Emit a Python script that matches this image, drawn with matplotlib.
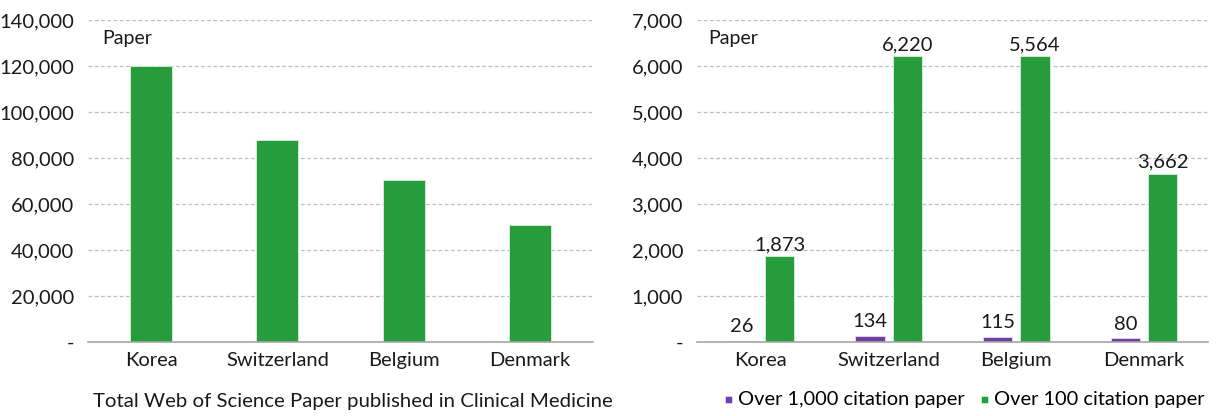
import matplotlib.pyplot as plt
import numpy as np
from matplotlib.ticker import FuncFormatter

plt.rcParams['font.family'] = ['Lato', 'DejaVu Sans']

# data
countries = ["Korea", "Switzerland", "Belgium", "Denmark"]
total_papers = [120000, 87800, 70300, 51000]

over_1000 = [26, 134, 115, 80]
over_100_bar = [1873, 6220, 6220, 3662]   # Belgium bar is drawn at the Switzerland height in the source
over_100_label = ["1,873", "6,220", "5,564", "3,662"]

green = "#279C3D"
purple = "#7040A0"
grid_col = "#BFBFBF"
txt = "#1a1a1a"

W, H = 1217, 416
fig = plt.figure(figsize=(W / 100, H / 100), dpi=100)


def fmt(v, pos):
    return "-" if v == 0 else f"{int(v):,}"


def style(ax, ymax, step, paper_x):
    ax.set_ylim(0, ymax)
    ax.set_yticks(np.arange(0, ymax + 1, step))
    ax.yaxis.set_major_formatter(FuncFormatter(fmt))
    ax.set_xlim(-0.5, len(countries) - 0.5)
    ax.set_xticks(range(len(countries)))
    ax.set_xticklabels(countries)
    for s in ["left", "right", "top"]:
        ax.spines[s].set_visible(False)
    ax.spines["bottom"].set_color("#A6A6A6")
    ax.spines["bottom"].set_linewidth(1.2)
    ax.tick_params(length=0, labelsize=14.5, colors=txt)
    ax.tick_params(axis="y", pad=10)
    ax.tick_params(axis="x", pad=7)
    ax.grid(axis="y", color=grid_col, linestyle=(0, (3, 2)), linewidth=0.9)
    ax.set_axisbelow(True)
    ax.text(paper_x, 0.944, "Paper", transform=ax.transAxes, fontsize=14,
            ha="left", va="center", color=txt)


x = np.arange(len(countries))

########################################################################
# left: total papers
ax1 = fig.add_axes([88 / W, 74 / H, 505 / W, 322 / H])
ax1.bar(x, total_papers, width=0.333, color=green, edgecolor="#DDEFD9", linewidth=0.6)
style(ax1, 140000, 20000, 0.028)
ax1.text((353 - 88) / 505, -(402 - 342) / 322,
         "Total Web of Science Paper published in Clinical Medicine",
         transform=ax1.transAxes, ha="center", va="center", fontsize=14.7, color=txt)

########################################################################
# right: highly cited papers
ax2 = fig.add_axes([697 / W, 74 / H, 511 / W, 322 / H])
bw = 0.23
off = 0.146
ax2.bar(x - off, over_1000, width=bw, color=purple, edgecolor="#E6DDF0",
        linewidth=0.6, label="Over 1,000 citation paper")
ax2.bar(x + off, over_100_bar, width=bw, color=green, edgecolor="#DDEFD9",
        linewidth=0.6, label="Over 100 citation paper")
style(ax2, 7000, 1000, 0.022)

for xi, v in zip(x, over_1000):
    ax2.annotate(f"{v:,}", (xi - off, v), xytext=(0, 4), textcoords="offset points",
                 ha="center", va="bottom", fontsize=14.5, color=txt)
for xi, v, lab in zip(x, over_100_bar, over_100_label):
    ax2.annotate(lab, (xi + off, v), xytext=(0, 2), textcoords="offset points",
                 ha="center", va="bottom", fontsize=14.5, color=txt)

ax2.legend(loc="center left", bbox_to_anchor=((725 - 697) / 511, -(400 - 342) / 322),
           ncol=2, frameon=False, fontsize=14.4, handlelength=0.35, handleheight=0.7,
           handletextpad=0.3, columnspacing=0.8, borderaxespad=0, borderpad=0)
for h in ax2.get_legend().legend_handles:
    h.set_height(h.get_width())
    h.set_y(h.get_y() + 2)

plt.savefig("out.png", dpi=100)
